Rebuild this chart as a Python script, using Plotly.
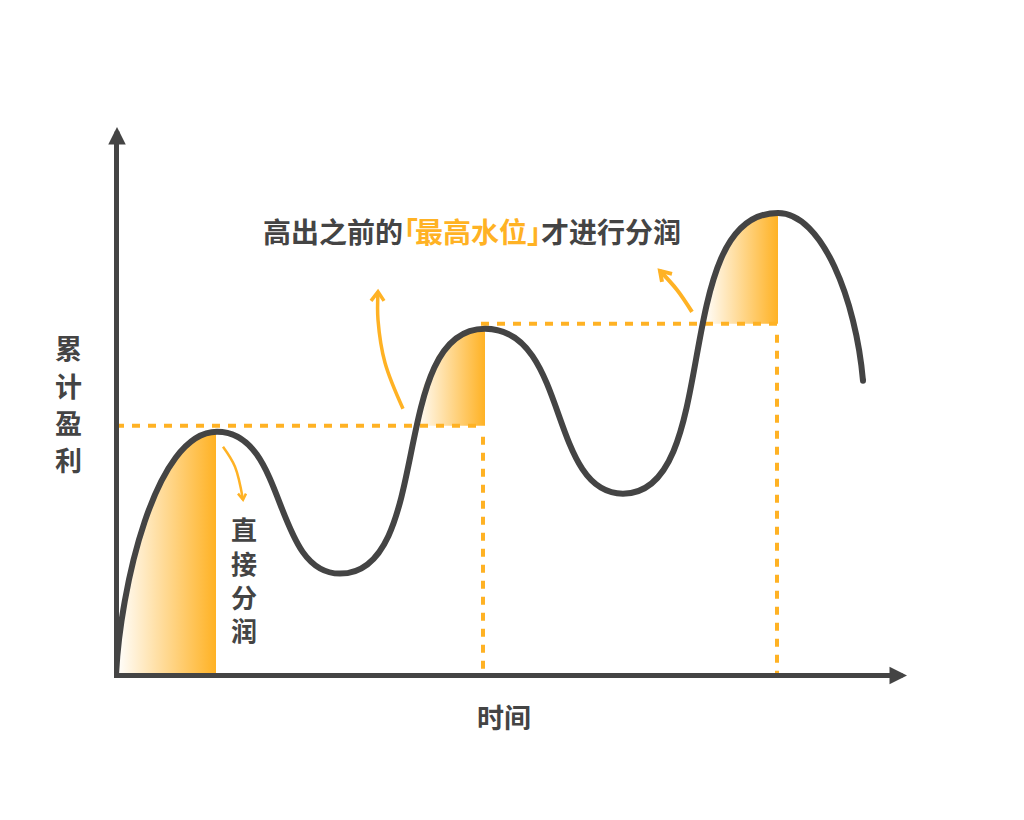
import plotly.graph_objects as go

DARK = '#444444'
ORANGE = '#FFB224'
CJK = 'Noto Sans CJK SC'

# turning points of the curve (time, cumulative profit)
time = [0, 101, 224, 369, 507, 662, 747]
profit = [0, 244, 102, 347, 182, 463, 295]
# bezier handles leaving each point and arriving at the next one
out_x = [4, 171, 318, 453, 607, 706]
out_y = [86, 244, 102, 347, 182, 463]
in_x = [39, 157, 272, 432, 553, 740]
in_y = [244, 102, 347, 182, 463, 376]

# outlines of the shaded parts, following the curve up to each peak
shade_1_x = [0, 3, 12, 27, 45, 57, 71, 84, 100, 100]
shade_1_y = [0, 41, 94, 144, 192, 214, 231, 240, 244, 0]
shade_2_x = [299, 306, 321, 334, 351, 369, 369]
shade_2_y = [250, 287, 320, 335, 344, 347, 250]
shade_3_x = [587, 598, 617, 629, 641, 652, 662, 662]
shade_3_y = [352, 396, 436, 450, 458, 462, 463, 352]

# dashed guides at the high water marks
level_1 = 250
level_2 = 352
peak_x_2 = 367
peak_x_3 = 661

# small arrows, tail to tip, then the two wings of the head
arrow_direct = ([107, 119, 127], [229, 209, 176])
arrow_direct_head = ([122, 127, 130], [182, 176, 182])
arrow_left = ([287, 269, 262, 262], [267, 313, 356, 384])
arrow_left_head = ([255, 262, 268], [375, 384, 375])
arrow_right = ([576, 561, 544], [364, 386, 405])
arrow_right_head = ([556, 544, 546], [402, 405, 394])

x_range = [3, 779]
y_range = [2.5, 536]

fig = go.Figure()

for xs, ys in [(shade_1_x, shade_1_y), (shade_2_x, shade_2_y), (shade_3_x, shade_3_y)]:
    fig.add_trace(go.Scatter(
        x=xs, y=ys, mode='lines', fill='toself', line=dict(width=0), cliponaxis=False,
        fillgradient=dict(type='horizontal',
                          colorscale=[[0, 'rgba(255,178,36,0)'], [1, ORANGE]]),
        hoverinfo='skip',
    ))

for xs, ys in [([0, peak_x_2], [level_1, level_1]),
               ([peak_x_2, peak_x_2], [239, 0]),
               ([365, peak_x_3], [level_2, level_2]),
               ([peak_x_3, peak_x_3], [341, 0])]:
    fig.add_trace(go.Scatter(x=xs, y=ys, mode='lines', hoverinfo='skip',
                             line=dict(color=ORANGE, width=4, dash='8px,8px')))

# plotly's own spline goes lumpy on this curve, a bezier path stays smooth
curve = 'M %d %d' % (time[0], profit[0])
for k in range(len(out_x)):
    curve += ' C %d %d, %d %d, %d %d' % (out_x[k], out_y[k], in_x[k], in_y[k], time[k + 1], profit[k + 1])
fig.add_shape(type='path', path=curve, xref='x', yref='y', line=dict(color=DARK, width=6))

# round end of the curve
fig.add_trace(go.Scatter(x=time[-1:], y=profit[-1:], mode='markers', hoverinfo='skip',
                         marker=dict(color=DARK, size=6)))

for (xs, ys), (hx, hy), w in [(arrow_direct, arrow_direct_head, 2.5),
                              (arrow_left, arrow_left_head, 3.5),
                              (arrow_right, arrow_right_head, 4)]:
    fig.add_trace(go.Scatter(x=xs, y=ys, mode='lines', hoverinfo='skip',
                             line=dict(color=ORANGE, width=w, shape='spline', smoothing=1)))
    fig.add_trace(go.Scatter(x=hx, y=hy, mode='lines', hoverinfo='skip',
                             line=dict(color=ORANGE, width=w)))


def px(x):
    return (x - x_range[0]) / (x_range[1] - x_range[0])


def py(y):
    return (y - y_range[0]) / (y_range[1] - y_range[0])


def label(text, x, y, size=27):
    # paper refs: annotations in data refs vanish once they leave the axis range
    fig.add_annotation(x=px(x), y=py(y), xref='paper', yref='paper', text=text, showarrow=False,
                       xanchor='center', yanchor='middle',
                       font=dict(family=CJK, size=size, color=DARK, weight='bold'))


# the corner brackets are tight in the reference, so pull them in with letter-spacing
label('高出之前<span style="letter-spacing:-13px">的</span>'
      '<span style="color:%s;letter-spacing:-3px">「</span>'
      '<span style="color:%s">最高水位</span>'
      '<span style="color:%s;letter-spacing:-14px">」</span>'
      '才进行分润' % (ORANGE, ORANGE, ORANGE), 356, 445, size=28)
label('累', -48, 328)
label('计', -48, 290)
label('盈', -48, 253)
label('利', -48, 216)
label('直<br>接<br>分<br>润', 128, 97, size=26)
label('时间', 388, -41)

# axis arrow heads, tip given in paper coordinates and tail in pixels
fig.add_annotation(x=px(791), y=py(0), xref='paper', yref='paper', text='', showarrow=True,
                   ax=-16, ay=0, arrowhead=2, arrowsize=0.7, arrowwidth=5, arrowcolor=DARK)
fig.add_annotation(x=px(1), y=py(549), xref='paper', yref='paper', text='', showarrow=True,
                   ax=0, ay=16, arrowhead=2, arrowsize=0.7, arrowwidth=5, arrowcolor=DARK)

axis = dict(showline=True, linecolor=DARK, linewidth=5, showgrid=False, zeroline=False,
            showticklabels=False, ticks='', fixedrange=True)

# the page puts 8px of body margin round the figure
fig.update_layout(
    width=1016, height=812,
    margin=dict(l=111, r=129, t=132, b=146.5),
    plot_bgcolor='white', paper_bgcolor='white',
    showlegend=False,
    xaxis=dict(axis, range=x_range),
    yaxis=dict(axis, range=y_range),
)

fig.write_html("out.html")
